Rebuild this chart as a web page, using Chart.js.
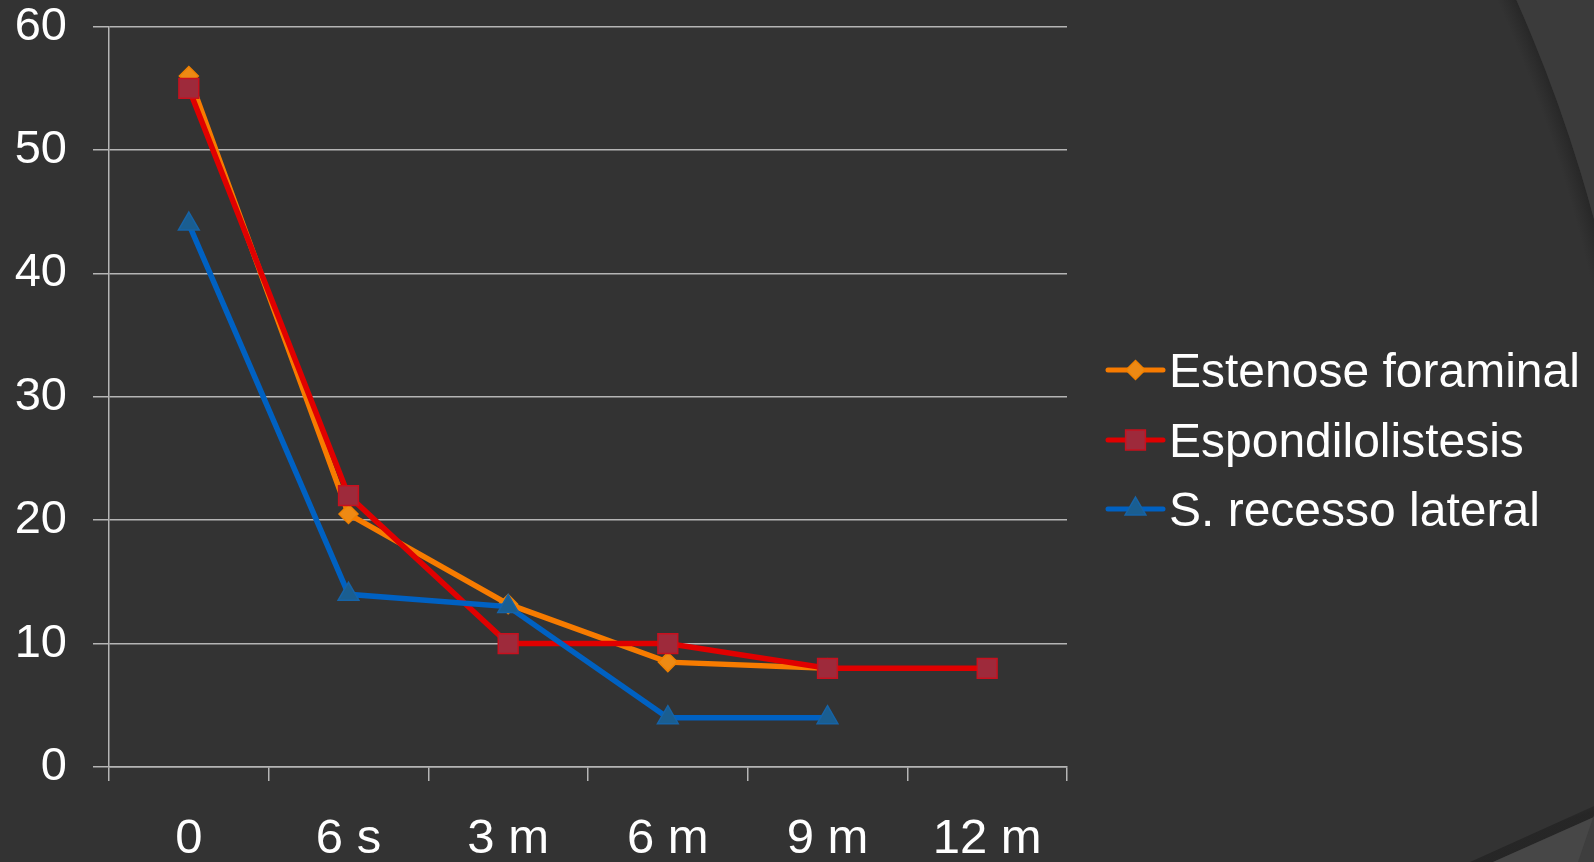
<!DOCTYPE html>
<html>
<head>
<meta charset="utf-8">
<title>Evolução por tipo de estenose</title>
<script src="https://cdn.jsdelivr.net/npm/chart.js@4.4.1/dist/chart.umd.min.js"></script>
<style>
  html, body { margin: 0; padding: 0; background: #333333; }
  #wrap { position: relative; width: 1594px; height: 862px; }
</style>
</head>
<body>
<div id="wrap"><canvas id="chart"></canvas></div>
<script>
// Follow-up time points
const categories = ['0', '6 s', '3 m', '6 m', '9 m', '12 m'];

// Series values per time point (null = no measurement)
const estenoseForaminal = [56, 20.5, 13.2, 8.5, 8, null];
const espondilolistesis = [55, 22, 10, 10, 8, 8];
const recessoLateral   = [44, 14, 13, 4, 4, null];

const seriesNames = ['Estenose foraminal', 'Espondilolistesis', 'S. recesso lateral'];

// Value axis
const yMin = 0, yMax = 60, yStep = 10;

const FONT = "'Liberation Sans', Arial, sans-serif";
const GRID = '#b5b5b5';

const styles = [
  { line: '#F77B00', fill: '#EE8A14', border: '#F08000', point: 'rectRot',  radius: 9.5 },
  { line: '#E00000', fill: '#9E2A3B', border: '#C8101E', point: 'rect',     radius: 14 },
  { line: '#0061C2', fill: '#1A5E91', border: '#1663A6', point: 'triangle', radius: 12 }
];

// Slide backdrop: dark fill with the lighter curved panel top-right and the wedge bottom-right
const backdrop = {
  id: 'backdrop',
  beforeDraw(chart) {
    const ctx = chart.ctx, w = chart.width, h = chart.height;
    ctx.save();
    ctx.fillStyle = '#333333';
    ctx.fillRect(0, 0, w, h);

    const cx = 170, cy = 600, r = 1474;
    // soft shadow just inside the arc
    const g = ctx.createRadialGradient(cx, cy, r - 18, cx, cy, r);
    g.addColorStop(0, 'rgba(40,40,40,0)');
    g.addColorStop(1, 'rgba(38,38,38,0.9)');
    ctx.beginPath();
    ctx.arc(cx, cy, r, 0, Math.PI * 2);
    ctx.arc(cx, cy, r - 18, 0, Math.PI * 2, true);
    ctx.fillStyle = g;
    ctx.fill();
    // lighter region outside the arc
    ctx.beginPath();
    ctx.rect(0, 0, w, h);
    ctx.arc(cx, cy, r, 0, Math.PI * 2, true);
    ctx.fillStyle = '#3b3b3b';
    ctx.fill('evenodd');

    // bottom-right wedge
    const sh = ctx.createLinearGradient(1560, 800, 1566, 820);
    sh.addColorStop(0, 'rgba(30,30,30,0)');
    sh.addColorStop(1, 'rgba(30,30,30,0.6)');
    ctx.beginPath();
    ctx.moveTo(1470, h); ctx.lineTo(w, 806); ctx.lineTo(w, 817); ctx.lineTo(1493, h);
    ctx.closePath();
    ctx.fillStyle = sh;
    ctx.fill();
    ctx.beginPath();
    ctx.moveTo(1493, h); ctx.lineTo(w, 817); ctx.lineTo(w, h);
    ctx.closePath();
    ctx.fillStyle = '#474747';
    ctx.fill();
    ctx.beginPath();
    ctx.moveTo(1578, h); ctx.lineTo(w, 815); ctx.lineTo(w, h);
    ctx.closePath();
    ctx.fillStyle = '#3e3e3e';
    ctx.fill();
    ctx.restore();
  }
};

// Legend: line + marker sample followed by the series name
const lineLegend = {
  id: 'lineLegend',
  afterDraw(chart) {
    const ctx = chart.ctx;
    const x0 = 1108, x1 = 1163, textX = 1169;
    const rowsY = [370, 440, 509];
    ctx.save();
    chart.data.datasets.forEach((ds, i) => {
      const s = styles[i];
      const y = rowsY[i];
      ctx.beginPath();
      ctx.moveTo(x0, y); ctx.lineTo(x1, y);
      ctx.strokeStyle = s.line;
      ctx.lineWidth = 5;
      ctx.lineCap = 'round';
      ctx.stroke();
      ctx.fillStyle = s.fill;
      ctx.strokeStyle = s.border;
      ctx.lineWidth = 1.5;
      Chart.helpers.drawPoint(ctx, { pointStyle: s.point, radius: s.radius, rotation: 0, borderWidth: 1.5 }, (x0 + x1) / 2, y);
      ctx.fillStyle = '#ffffff';
      ctx.font = '48px ' + FONT;
      ctx.textAlign = 'left';
      ctx.textBaseline = 'alphabetic';
      ctx.fillText(ds.label, textX, y + 17);
    });
    ctx.restore();
  }
};

function makeDataset(label, data, s, order) {
  return {
    label, data, order,
    borderColor: s.line,
    borderWidth: 5.5,
    backgroundColor: s.fill,
    pointStyle: s.point,
    pointRadius: s.radius,
    pointHoverRadius: s.radius,
    pointBackgroundColor: s.fill,
    pointBorderColor: s.border,
    pointBorderWidth: 1.5,
    spanGaps: false,
    tension: 0
  };
}

new Chart(document.getElementById('chart'), {
  type: 'line',
  data: {
    labels: categories,
    datasets: [
      makeDataset(seriesNames[0], estenoseForaminal, styles[0], 2),
      makeDataset(seriesNames[1], espondilolistesis, styles[1], 1),
      makeDataset(seriesNames[2], recessoLateral, styles[2], 0)
    ]
  },
  options: {
    responsive: true,
    maintainAspectRatio: false,
    animation: false,
    layout: { padding: { top: 26.7, left: 14, right: 527, bottom: 2.5 } },
    plugins: {
      legend: { display: false },
      tooltip: { enabled: false }
    },
    scales: {
      x: {
        type: 'category',
        offset: true,
        grid: { offset: true, drawOnChartArea: false, drawTicks: true, tickLength: 14, color: GRID, lineWidth: 1.5 },
        border: { display: true, color: GRID, width: 1.5 },
        ticks: { color: '#ffffff', font: { family: FONT, size: 49, lineHeight: 1 }, padding: 33.5, maxRotation: 0 },
        afterFit(scale) { scale.height = 92.5; }
      },
      y: {
        min: yMin, max: yMax,
        grid: { color: GRID, lineWidth: 1.5, drawTicks: true, tickLength: 16 },
        border: { display: true, color: GRID, width: 1.5 },
        ticks: { stepSize: yStep, color: '#ffffff', font: { family: FONT, size: 47, lineHeight: 1 }, padding: 26 },
        afterFit(scale) {
          scale.width = 95;
          scale.paddingTop = 0;
          scale.paddingBottom = 0;
        }
      }
    }
  },
  plugins: [backdrop, lineLegend]
});
</script>
</body>
</html>
